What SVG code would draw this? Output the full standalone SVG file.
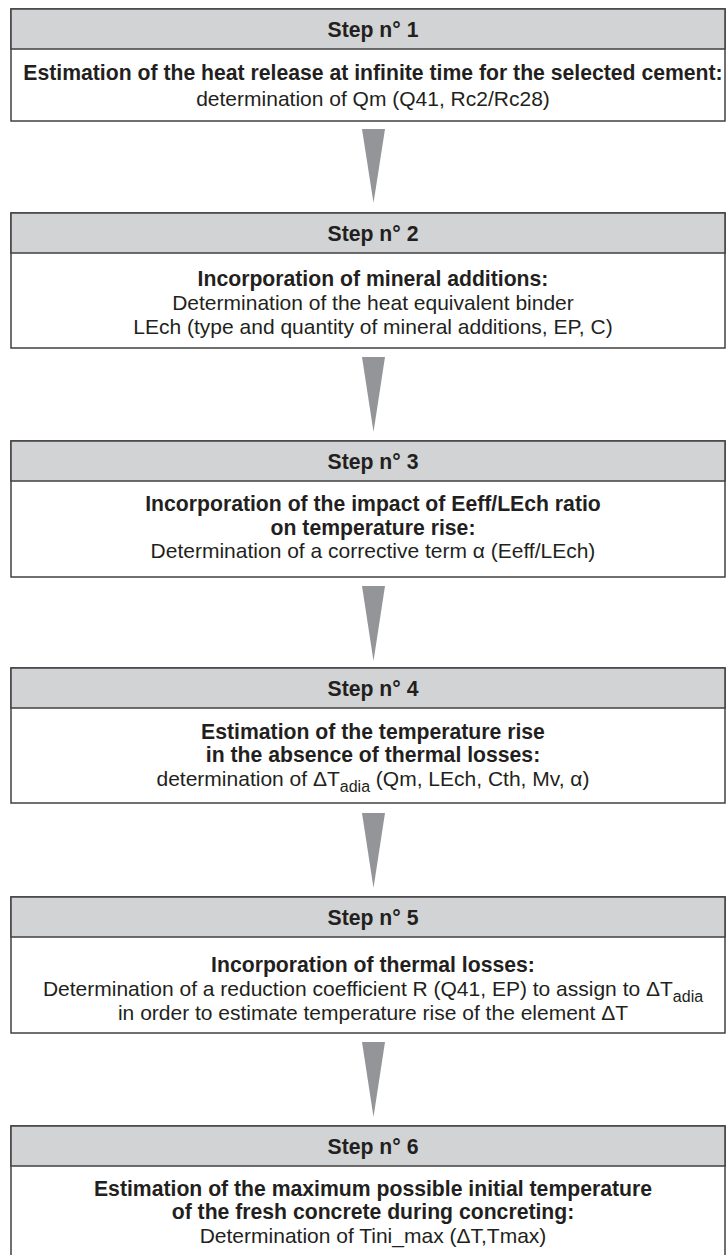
<svg xmlns="http://www.w3.org/2000/svg" width="726" height="1255" viewBox="0 0 726 1255">
<defs>
<style>
.box{fill:#ffffff;stroke:#414042;stroke-width:1.5}
.hdr{fill:#d1d3d4;stroke:#414042;stroke-width:1.5}
text{font-family:"Liberation Sans",Arial,sans-serif;font-size:21px;fill:#231f20;text-anchor:middle}
.b{font-weight:bold;font-size:21.2px}
.sub{font-size:16px}
.arrow{fill:#939598}
</style>
</defs>
<rect width="726" height="1255" fill="#ffffff"/>
<g id="connectors">
<polygon class="arrow" points="362,129 385,129 373.5,203"/>
<polygon class="arrow" points="362,357 385,357 373.5,432"/>
<polygon class="arrow" points="362,586 385,586 373.5,661"/>
<polygon class="arrow" points="362,813 385,813 373.5,888"/>
<polygon class="arrow" points="362,1042 385,1042 373.5,1117"/>
</g>
<g id="step1">
<rect class="box" x="11" y="9" width="714" height="112"/>
<rect class="hdr" x="11" y="9" width="714" height="40"/>
<text class="b" x="373" y="37">Step n° 1</text>
<text class="b" x="373" y="80">Estimation of the heat release at infinite time for the selected cement:</text>
<text x="373" y="106">determination of Qm (Q41, Rc2/Rc28)</text>
</g>
<g id="step2">
<rect class="box" x="11" y="213" width="714" height="135"/>
<rect class="hdr" x="11" y="213" width="714" height="40"/>
<text class="b" x="373" y="241">Step n° 2</text>
<text class="b" x="373" y="286">Incorporation of mineral additions:</text>
<text x="373" y="310">Determination of the heat equivalent binder</text>
<text x="373" y="334">LEch (type and quantity of mineral additions, EP, C)</text>
</g>
<g id="step3">
<rect class="box" x="11" y="441" width="714" height="136"/>
<rect class="hdr" x="11" y="441" width="714" height="40"/>
<text class="b" x="373" y="469">Step n° 3</text>
<text class="b" x="373" y="511">Incorporation of the impact of Eeff/LEch ratio</text>
<text class="b" x="373" y="535">on temperature rise:</text>
<text x="373" y="558">Determination of a corrective term α (Eeff/LEch)</text>
</g>
<g id="step4">
<rect class="box" x="11" y="668" width="714" height="135"/>
<rect class="hdr" x="11" y="668" width="714" height="40"/>
<text class="b" x="373" y="696">Step n° 4</text>
<text class="b" x="373" y="739">Estimation of the temperature rise</text>
<text class="b" x="373" y="762">in the absence of thermal losses:</text>
<text x="373" y="786">determination of ΔT<tspan class="sub" dy="6">adia</tspan><tspan dy="-6"> (Qm, LEch, Cth, Mv, α)</tspan></text>
</g>
<g id="step5">
<rect class="box" x="11" y="897" width="714" height="136"/>
<rect class="hdr" x="11" y="897" width="714" height="40"/>
<text class="b" x="373" y="925">Step n° 5</text>
<text class="b" x="373" y="972">Incorporation of thermal losses:</text>
<text x="373" y="996">Determination of a reduction coefficient R (Q41, EP) to assign to ΔT<tspan class="sub" dy="6">adia</tspan></text>
<text x="373" y="1020">in order to estimate temperature rise of the element ΔT</text>
</g>
<g id="step6">
<rect class="box" x="11" y="1126" width="714" height="136"/>
<rect class="hdr" x="11" y="1126" width="714" height="40"/>
<text class="b" x="373" y="1154">Step n° 6</text>
<text class="b" x="373" y="1196">Estimation of the maximum possible initial temperature</text>
<text class="b" x="373" y="1219">of the fresh concrete during concreting:</text>
<text x="373" y="1243">Determination of Tini_max (ΔT,Tmax)</text>
</g>
</svg>
